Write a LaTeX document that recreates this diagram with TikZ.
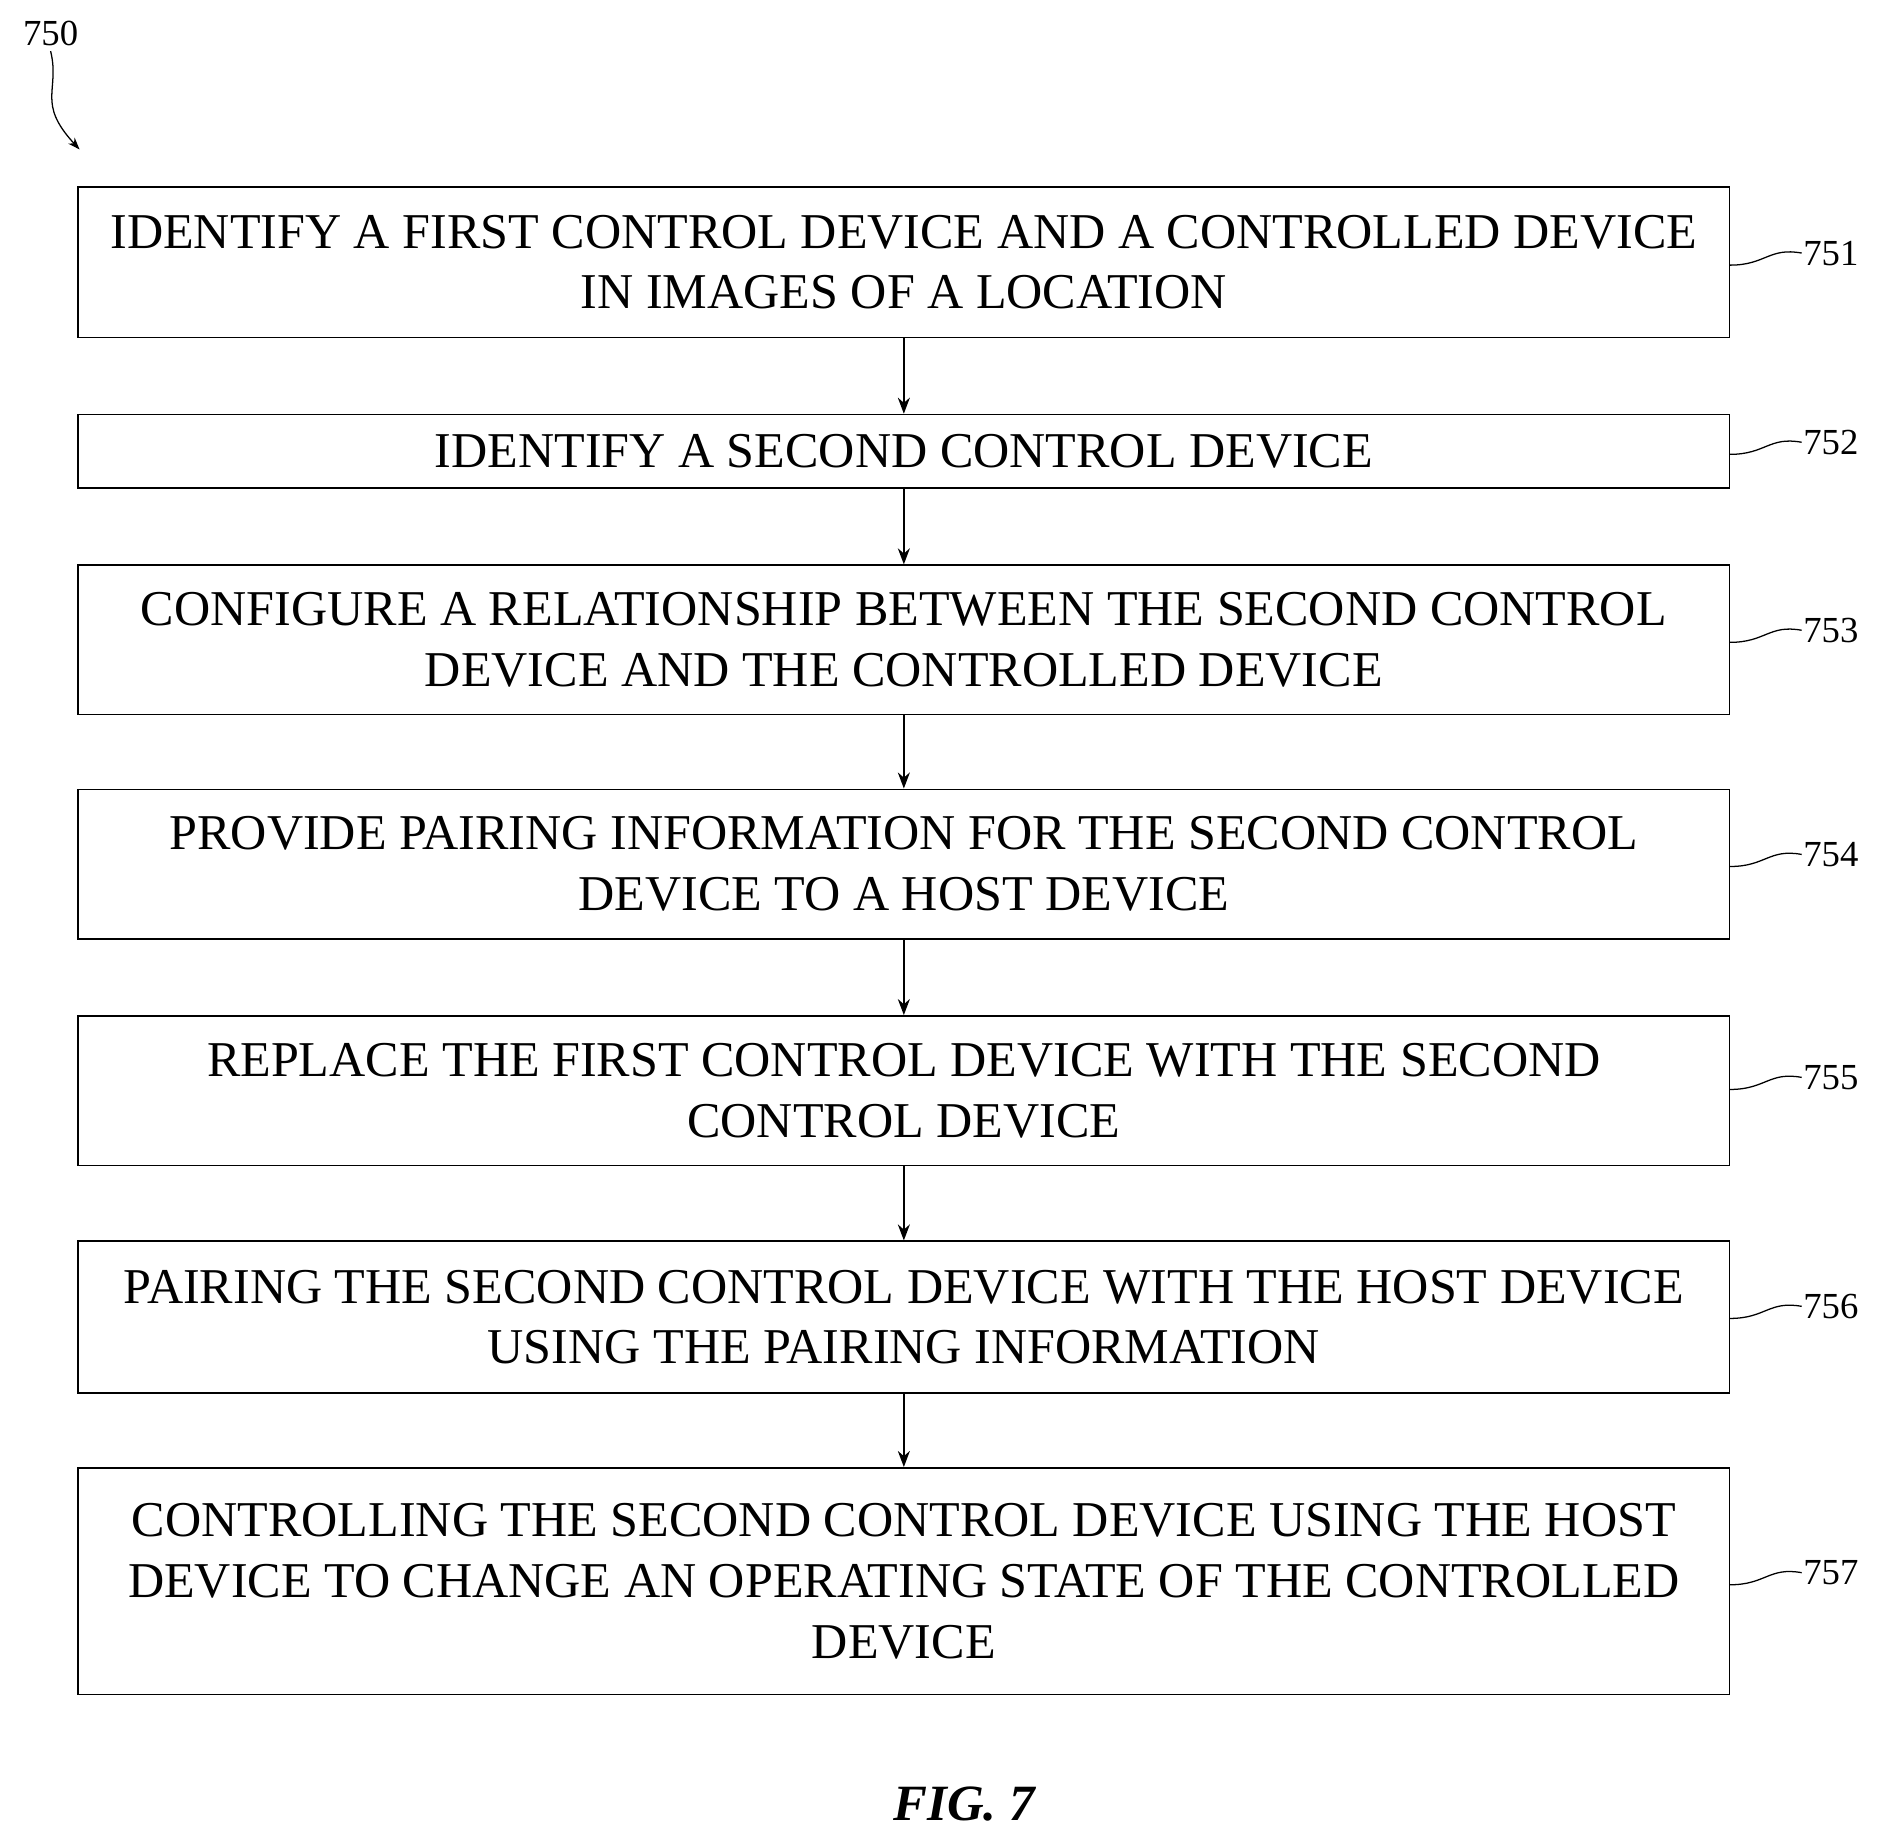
\documentclass[tikz,border=0pt]{standalone}
\usepackage{fontspec}
\setmainfont{Liberation Serif}
\usetikzlibrary{arrows.meta, positioning}

\begin{document}
\begin{tikzpicture}[
    x=0.3mm, y=-0.3mm,
    box/.style={
        rectangle,
        draw=black,
        line width=1.2pt,
        minimum width=1370*0.3mm,
        align=center,
        inner sep=0pt,
        font=\fontsize{35.5}{43}\selectfont
    },
    ref/.style={
        font=\fontsize{26}{30}\selectfont,
        anchor=west,
        inner sep=1pt
    },
    arrow/.style={
        -{Stealth[length=4mm, width=3mm]},
        line width=1.2pt
    },
    tick/.style={
        line width=0.9pt
    }
]
\useasboundingbox (0,0) rectangle (1560,1525);

\node[box, minimum height=125*0.3mm] (s751) at (750,217.5) {IDENTIFY A FIRST CONTROL DEVICE AND A CONTROLLED DEVICE\\IN IMAGES OF A LOCATION};
\node[box, minimum height=61*0.3mm] (s752) at (750,374.5) {IDENTIFY A SECOND CONTROL DEVICE};
\node[box, minimum height=124*0.3mm] (s753) at (750,531) {CONFIGURE A RELATIONSHIP BETWEEN THE SECOND CONTROL\\DEVICE AND THE CONTROLLED DEVICE};
\node[box, minimum height=124*0.3mm] (s754) at (750,717) {PROVIDE PAIRING INFORMATION FOR THE SECOND CONTROL\\DEVICE TO A HOST DEVICE};
\node[box, minimum height=124*0.3mm] (s755) at (750,905) {REPLACE THE FIRST CONTROL DEVICE WITH THE SECOND\\CONTROL DEVICE};
\node[box, minimum height=126*0.3mm] (s756) at (750,1093) {PAIRING THE SECOND CONTROL DEVICE WITH THE HOST DEVICE\\USING THE PAIRING INFORMATION};
\node[box, minimum height=188*0.3mm] (s757) at (750,1312) {CONTROLLING THE SECOND CONTROL DEVICE USING THE HOST\\DEVICE TO CHANGE AN OPERATING STATE OF THE CONTROLLED\\DEVICE};

\draw[arrow] (s751) -- (s752);
\draw[arrow] (s752) -- (s753);
\draw[arrow] (s753) -- (s754);
\draw[arrow] (s754) -- (s755);
\draw[arrow] (s755) -- (s756);
\draw[arrow] (s756) -- (s757);

% reference numerals
\node[ref] (r751) at (1495,210) {751};
\node[ref] (r752) at (1495,367) {752};
\node[ref] (r753) at (1495,523) {753};
\node[ref] (r754) at (1495,709) {754};
\node[ref] (r755) at (1495,894) {755};
\node[ref] (r756) at (1495,1084) {756};
\node[ref] (r757) at (1495,1305) {757};

\draw[tick] (s751.east |- 0,220) .. controls (1465,220) and (1468,205) .. (r751.west);
\draw[tick] (s752.east |- 0,377) .. controls (1465,377) and (1468,362) .. (r752.west);
\draw[tick] (s753.east |- 0,533) .. controls (1465,533) and (1468,518) .. (r753.west);
\draw[tick] (s754.east |- 0,719) .. controls (1465,719) and (1468,704) .. (r754.west);
\draw[tick] (s755.east |- 0,904) .. controls (1465,904) and (1468,889) .. (r755.west);
\draw[tick] (s756.east |- 0,1094) .. controls (1465,1094) and (1468,1079) .. (r756.west);
\draw[tick] (s757.east |- 0,1315) .. controls (1465,1315) and (1468,1300) .. (r757.west);

% figure numeral
\node[font=\fontsize{26}{30}\selectfont] (r750) at (42,28) {750};
\coordinate (c750) at (66,124);
\draw[tick, -{Stealth[length=3mm, width=2.2mm]}] (r750.south) .. controls (50,75) and (30,85) .. (c750);

\node[font=\fontsize{36}{40}\selectfont\bfseries\itshape] (fig) at (800,1497) {FIG. 7};
\end{tikzpicture}
\end{document}
